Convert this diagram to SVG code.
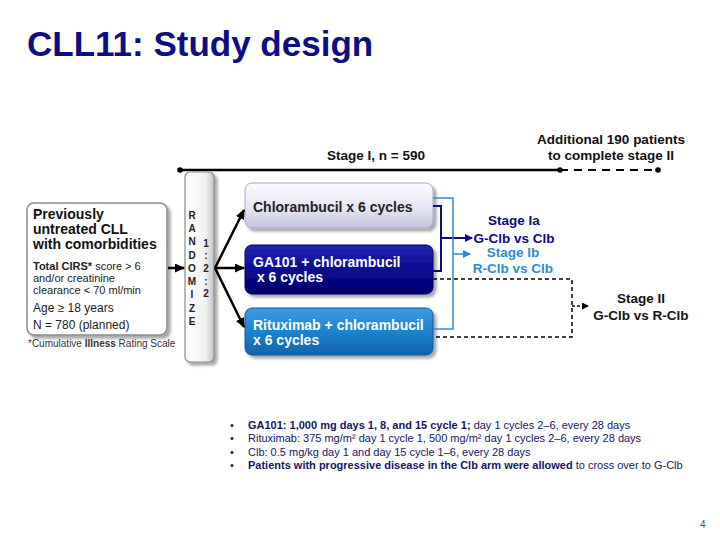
<svg xmlns="http://www.w3.org/2000/svg" width="720" height="540" viewBox="0 0 720 540">
<defs>
<style>
text{font-family:"Liberation Sans",Arial,sans-serif}
.b{font-weight:bold}
.box{font-size:14px;font-weight:bold}
.wt{fill:#ffffff}
.stg{font-size:13.5px;font-weight:bold;text-anchor:middle}
.rl{font-size:10px;font-weight:bold;fill:#222;text-anchor:middle}
.note{font-size:11px;fill:#16165e}
</style>
<filter id="sh" x="-10%" y="-10%" width="130%" height="130%">
<feDropShadow dx="3" dy="3" stdDeviation="1.5" flood-color="#000" flood-opacity="0.35"/>
</filter>
<linearGradient id="gLav" x1="0" y1="0" x2="0" y2="1">
<stop offset="0" stop-color="#fbfbff"/><stop offset="0.55" stop-color="#e6e6f5"/><stop offset="1" stop-color="#c4c4de"/>
</linearGradient>
<linearGradient id="gNavy" x1="0" y1="0" x2="0" y2="1">
<stop offset="0" stop-color="#2424b4"/><stop offset="0.5" stop-color="#0a0a92"/><stop offset="1" stop-color="#000070"/>
</linearGradient>
<linearGradient id="gBlue" x1="0" y1="0" x2="0" y2="1">
<stop offset="0" stop-color="#3c9ce2"/><stop offset="0.5" stop-color="#1e82ce"/><stop offset="1" stop-color="#1062aa"/>
</linearGradient>
<linearGradient id="gRand" x1="0" y1="0" x2="1" y2="0">
<stop offset="0" stop-color="#ffffff"/><stop offset="0.7" stop-color="#f2f2f2"/><stop offset="1" stop-color="#c4c4c4"/>
</linearGradient>
<marker id="aBlk" markerUnits="userSpaceOnUse" markerWidth="10" markerHeight="9" refX="9" refY="4.5" orient="auto">
<path d="M0,0 L10,4.5 L0,9 z" fill="#000"/>
</marker>
<marker id="aNavy" markerUnits="userSpaceOnUse" markerWidth="8" markerHeight="8" refX="7" refY="4" orient="auto">
<path d="M0,0 L8,4 L0,8 z" fill="#0c0c80"/>
</marker>
<marker id="aBlue" markerUnits="userSpaceOnUse" markerWidth="8" markerHeight="8" refX="7" refY="4" orient="auto">
<path d="M0,0 L8,4 L0,8 z" fill="#2f8ccc"/>
</marker>
<marker id="aDash" markerUnits="userSpaceOnUse" markerWidth="7" markerHeight="7" refX="6" refY="3.5" orient="auto">
<path d="M0,0 L7,3.5 L0,7 z" fill="#000"/>
</marker>
</defs>
<rect width="720" height="540" fill="#ffffff"/>

<g id="title">
<text x="27" y="56" font-size="35" font-weight="bold" fill="#0d0d84">CLL11: Study design</text>
</g>

<g id="timeline">
<line x1="180" y1="170" x2="560" y2="170" stroke="#000" stroke-width="2.5"/>
<line x1="560" y1="170" x2="658" y2="170" stroke="#000" stroke-width="2" stroke-dasharray="8 6"/>
<circle cx="180" cy="170" r="2.8" fill="#000"/>
<circle cx="560" cy="170" r="2.8" fill="#000"/>
<circle cx="658" cy="170" r="2.8" fill="#000"/>
<text x="376" y="160" class="stg" font-size="14" fill="#111">Stage I, n = 590</text>
<text x="611" y="144" class="stg" fill="#111">Additional 190 patients</text>
<text x="611" y="160" class="stg" fill="#111">to complete stage II</text>
</g>

<g id="node-eligibility">
<rect x="27" y="203" width="140" height="132" rx="7" fill="#ffffff" stroke="#8a8a8a" stroke-width="1.5" filter="url(#sh)"/>
<text x="33" y="219" font-size="14" class="b" fill="#111">Previously</text>
<text x="33" y="234" font-size="14" class="b" fill="#111">untreated CLL</text>
<text x="33" y="249" font-size="14" class="b" fill="#111">with comorbidities</text>
<text x="33" y="270" font-size="11" fill="#222"><tspan class="b">Total CIRS*</tspan> score &gt; 6</text>
<text x="33" y="282" font-size="11" fill="#222">and/or creatinine</text>
<text x="33" y="294" font-size="11" fill="#222">clearance &lt; 70 ml/min</text>
<text x="33" y="312" font-size="12" fill="#222">Age ≥ 18 years</text>
<text x="33" y="329" font-size="12" fill="#222">N = 780 (planned)</text>
<text x="28" y="347" font-size="10" fill="#333">*Cumulative <tspan class="b">Illness</tspan> Rating Scale</text>
</g>

<g id="node-randomize">
<rect x="185" y="172" width="29" height="190" rx="5" fill="url(#gRand)" stroke="#8a8a8a" stroke-width="1.2" filter="url(#sh)"/>
<text class="rl" x="192" y="219">R</text>
<text class="rl" x="192" y="232">A</text>
<text class="rl" x="192" y="245">N</text>
<text class="rl" x="192" y="259">D</text>
<text class="rl" x="192" y="272">O</text>
<text class="rl" x="192" y="285">M</text>
<text class="rl" x="192" y="298">I</text>
<text class="rl" x="192" y="312">Z</text>
<text class="rl" x="192" y="325">E</text>
<text class="rl" x="206" y="247">1</text>
<text class="rl" x="206" y="259">:</text>
<text class="rl" x="206" y="272">2</text>
<text class="rl" x="206" y="285">:</text>
<text class="rl" x="206" y="297">2</text>
</g>

<g id="node-clb">
<rect x="245" y="183" width="188" height="45" rx="7" fill="url(#gLav)" stroke="#a8a8c8" stroke-width="1" filter="url(#sh)"/>
<text x="253" y="212" class="box" fill="#222">Chlorambucil x 6 cycles</text>
</g>

<g id="node-gclb">
<rect x="245" y="245" width="188" height="49" rx="7" fill="url(#gNavy)" stroke="#00005a" stroke-width="1" filter="url(#sh)"/>
<text x="253" y="267" class="box wt">GA101 + chlorambucil</text>
<text x="253" y="282" class="box wt" xml:space="preserve"> x 6 cycles</text>
</g>

<g id="node-rclb">
<rect x="245" y="308" width="188" height="47" rx="7" fill="url(#gBlue)" stroke="#0c5a9c" stroke-width="1" filter="url(#sh)"/>
<text x="253" y="330" class="box wt">Rituximab + chlorambucil</text>
<text x="253" y="345" class="box wt">x 6 cycles</text>
</g>

<g id="connectors">
<line x1="168" y1="268" x2="184" y2="268" stroke="#000" stroke-width="2.5" marker-end="url(#aBlk)"/>
<line x1="215" y1="268" x2="244" y2="210" stroke="#000" stroke-width="2.5" marker-end="url(#aBlk)"/>
<line x1="215" y1="268" x2="244" y2="268" stroke="#000" stroke-width="2.5" marker-end="url(#aBlk)"/>
<line x1="215" y1="268" x2="244" y2="327" stroke="#000" stroke-width="2.5" marker-end="url(#aBlk)"/>
<path d="M433,206 H441 V271 H433" fill="none" stroke="#0c0c80" stroke-width="2"/>
<line x1="441" y1="238" x2="472" y2="238" stroke="#0c0c80" stroke-width="2" marker-end="url(#aNavy)"/>
<path d="M433,198 H453 V329 H433" fill="none" stroke="#2f8ccc" stroke-width="1.5"/>
<line x1="453" y1="254" x2="470" y2="254" stroke="#2f8ccc" stroke-width="1.5" marker-end="url(#aBlue)"/>
<path d="M433,279 H572 V337 H433" fill="none" stroke="#000" stroke-width="1.5" stroke-dasharray="4 3"/>
<line x1="572" y1="306" x2="588" y2="306" stroke="#000" stroke-width="1.5" stroke-dasharray="3 2" marker-end="url(#aDash)"/>
</g>

<g id="label-stage1">
<text x="514" y="225" class="stg" fill="#0c0c80">Stage Ia</text>
<text x="514" y="243" class="stg" fill="#0c0c80">G-Clb vs Clb</text>
<text x="513" y="257" class="stg" fill="#2f8ccc">Stage Ib</text>
<text x="513" y="273" class="stg" fill="#2f8ccc">R-Clb vs Clb</text>
</g>

<g id="label-stage2">
<text x="641" y="303" class="stg" fill="#111">Stage II</text>
<text x="641" y="320" class="stg" fill="#111">G-Clb vs R-Clb</text>
</g>

<g id="notes">
<text x="230" y="429" class="note">•</text>
<text x="248" y="429" class="note"><tspan class="b">GA101: 1,000 mg days 1, 8, and 15 cycle 1;</tspan> day 1 cycles 2–6, every 28 days</text>
<text x="230" y="442" class="note">•</text>
<text x="248" y="442" class="note">Rituximab: 375 mg/m² day 1 cycle 1, 500 mg/m² day 1 cycles 2–6, every 28 days</text>
<text x="230" y="456" class="note">•</text>
<text x="248" y="456" class="note">Clb: 0.5 mg/kg day 1 and day 15 cycle 1–6, every 28 days</text>
<text x="230" y="469" class="note">•</text>
<text x="248" y="469" class="note"><tspan class="b">Patients with progressive disease in the Clb arm were allowed</tspan> to cross over to G-Clb</text>
</g>

<g id="page-number">
<text x="700" y="528" font-size="10" fill="#555">4</text>
</g>
</svg>
